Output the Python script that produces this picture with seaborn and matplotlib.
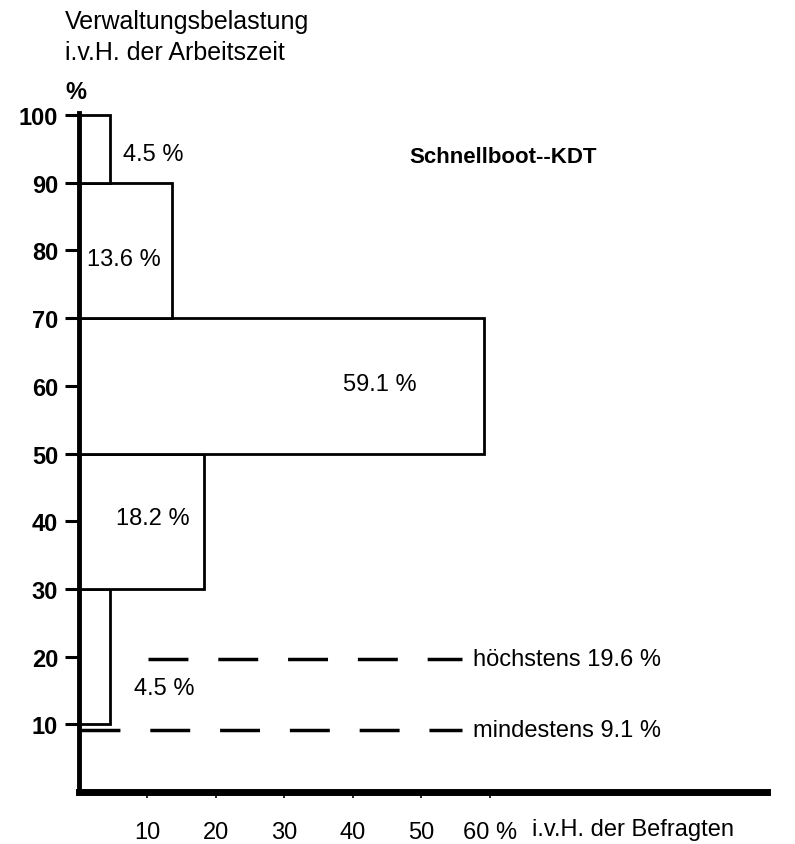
import numpy as np
import pandas as pd
import matplotlib
matplotlib.use("Agg")
import matplotlib.pyplot as plt
import matplotlib.transforms as mtransforms
import seaborn as sns

# Verwaltungsbelastung classes (edges, % of working time) and share of respondents
bin_edges = [10, 30, 50, 70, 90, 100]
shares = [4.5, 18.2, 59.1, 13.6, 4.5]
share_labels = ["4.5 %", "18.2 %", "59.1 %", "13.6 %", "4.5 %"]
# label positions (x in % Befragte, y in % Arbeitszeit)
label_x = [12.4, 10.8, 43.9, 6.6, 10.9]
label_y = [15.4, 40.5, 60.3, 78.7, 94.2]

hoechstens = 19.6
mindestens = 9.1

y_ticks = [10, 20, 30, 40, 50, 60, 70, 80, 90, 100]
x_ticks = [10, 20, 30, 40, 50, 60]
x_ticklabels = ["10", "20", "30", "40", "50", "60 %"]

sns.set_theme(style="white")
plt.rcParams["font.family"] = ["Liberation Sans", "DejaVu Sans"]
plt.rcParams["text.color"] = "black"
plt.rcParams["xtick.color"] = "black"
plt.rcParams["ytick.color"] = "black"

mids = [(a + b) / 2 for a, b in zip(bin_edges[:-1], bin_edges[1:])]
df = pd.DataFrame({"belastung": mids, "anteil": shares})

fig = plt.figure(figsize=(7.95, 8.45), dpi=100)
ax = fig.add_axes([0.0994, 0.0615, 0.8654, 0.8036])

sns.histplot(data=df, y="belastung", weights="anteil", bins=bin_edges,
             stat="count", color="white", edgecolor="black", linewidth=2,
             alpha=1, ax=ax)

for t, x, y in zip(share_labels, label_x, label_y):
    ax.text(x, y, t, ha="center", va="center", fontsize=17)

# dashed reference lines
ax.plot([10.1, 55.9], [hoechstens, hoechstens], color="black", lw=2.5,
        dashes=(11.5, 8.6), solid_capstyle="butt")
ax.plot([0.2, 56.0], [mindestens, mindestens], color="black", lw=2.5,
        dashes=(11.5, 8.6))
ax.text(57.5, hoechstens, "höchstens 19.6 %", va="center", fontsize=17)
ax.text(57.5, mindestens, "mindestens 9.1 %", va="center", fontsize=17)

ax.text(48.3, 93.8, "Schnellboot--KDT", fontsize=16, fontweight="bold",
        ha="left", va="center")

ax.set_xlim(0, 100.5)
ax.set_ylim(0, 100.3)
ax.set_xlabel("")
ax.set_ylabel("")
ax.set_yticks(y_ticks)
ax.set_yticklabels([str(v) for v in y_ticks], fontsize=17, fontweight="bold")
ax.set_xticks(x_ticks)
ax.set_xticklabels(x_ticklabels, fontsize=17)
ax.tick_params(axis="y", direction="out", length=10, width=2.2, left=True, pad=5)
ax.tick_params(axis="x", direction="out", length=4, width=1.2, bottom=True, pad=17)

trans = mtransforms.blended_transform_factory(ax.transData, ax.transAxes)
ax.text(66.1, -0.0545, "i.v.H. der Befragten", fontsize=17, ha="left",
        va="center", transform=trans)

for s in ["top", "right"]:
    ax.spines[s].set_visible(False)
ax.spines["left"].set_linewidth(3.5)
ax.spines["bottom"].set_linewidth(5)
ax.spines["left"].set_color("black")
ax.spines["bottom"].set_color("black")

fig.text(0.082, 0.974, "Verwaltungsbelastung", fontsize=18, va="center")
fig.text(0.082, 0.937, "i.v.H. der Arbeitszeit", fontsize=18, va="center")
fig.text(0.082, 0.891, "%", fontsize=17, va="center", fontweight="bold")

fig.savefig("out.png", dpi=100)
